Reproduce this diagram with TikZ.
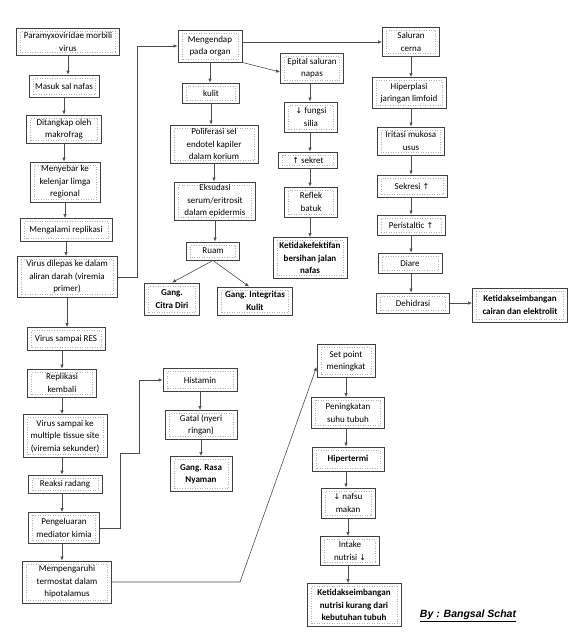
\documentclass[tikz,border=0pt]{standalone}
\usepackage{fontspec}
\setmainfont{Carlito}
\newfontfamily\symfont{DejaVu Sans}
\newfontfamily\signfont{Liberation Sans}
\usetikzlibrary{arrows.meta,calc}
\newcommand{\arrup}{{\symfont\fontsize{8}{12}\selectfont ↑}}
\newcommand{\arrdn}{{\symfont\fontsize{8}{12}\selectfont ↓}}

\begin{document}
\begin{tikzpicture}[
  x=1pt, y=-1pt,
  box/.style={rectangle, draw=black!75, line width=0.9pt, fill=white, align=center,
    font=\fontsize{9}{12.5}\selectfont, inner sep=2.5pt,
    path picture={\draw[black!30, dotted, line width=0.5pt]
      ([shift={(4pt,3pt)}]path picture bounding box.south west) rectangle
      ([shift={(-4pt,-3pt)}]path picture bounding box.north east);}},
  result/.style={box, font=\fontsize{9}{12.5}\selectfont\bfseries},
  arrow/.style={-{Latex[length=4pt,width=3.5pt]}, draw=black!70, line width=0.6pt},
]
\useasboundingbox (0,0) rectangle (574,640);

% === Left column: virus course ===
\node[box, minimum width=103pt, minimum height=27pt] (virus) at (68,42) {Paramyxoviridae morbili\\virus};
\node[box, minimum width=70pt, minimum height=22pt] (masuk) at (64,86) {Masuk sal nafas};
\node[box, minimum width=75pt, minimum height=28pt] (tangkap) at (64,129) {Ditangkap oleh\\makrofrag};
\node[box, minimum width=70pt, minimum height=40pt] (sebar) at (65,182) {Menyebar ke\\kelenjar limga\\regional};
\node[box, minimum width=92pt, minimum height=23pt] (repli) at (66,230) {Mengalami replikasi};
\node[box, minimum width=100pt, minimum height=41pt] (virem) at (67,277) {Virus dilepas ke dalam\\aliran darah (viremia\\primer)};
\node[box, minimum width=78pt, minimum height=23pt] (res) at (66,339) {Virus sampai RES};
\node[box, minimum width=69pt, minimum height=28pt] (replik) at (62,383) {Replikasi\\kembali};
\node[box, minimum width=84pt, minimum height=43pt] (multi) at (65,436) {Virus sampai ke\\multiple tissue site\\(viremia sekunder)};
\node[box, minimum width=74pt, minimum height=18pt] (radang) at (65,484) {Reaksi radang};
\node[box, minimum width=71pt, minimum height=31pt] (mediator) at (64,528) {Pengeluaran\\mediator kimia};
\node[box, minimum width=89pt, minimum height=42pt] (termo) at (67,582) {Mempengaruhi\\termostat dalam\\hipotalamus};

\draw[arrow] (virus.south) -- (virus.south |- masuk.north);
\draw[arrow] (masuk.south) -- (masuk.south |- tangkap.north);
\draw[arrow] (tangkap.south) -- (tangkap.south |- sebar.north);
\draw[arrow] (sebar.south) -- (sebar.south |- repli.north);
\draw[arrow] (repli.south) -- (repli.south |- virem.north);
\draw[arrow] (virem.south) -- (virem.south |- res.north);
\draw[arrow] (res.south -| replik) -- (replik.north);
\draw[arrow] (replik.south) -- (replik.south |- multi.north);
\draw[arrow] (multi.south -| replik) -- (replik |- radang.north);
\draw[arrow] (radang.south -| replik) -- (replik |- mediator.north);
\draw[arrow] (mediator.south -| replik) -- (replik |- termo.north);

% === Histamin branch ===
\node[box, minimum width=74pt, minimum height=23pt] (histamin) at (200,380) {Histamin};
\node[box, minimum width=72pt, minimum height=29pt] (gatal) at (201,425) {Gatal (nyeri\\ringan)};
\node[result, minimum width=62pt, minimum height=35pt] (nyaman) at (201,474) {Gang. Rasa\\Nyaman};
\draw[arrow] (mediator.east) -- ++(20,0) -- ++(0,-75) -- ++(19,0) |- (histamin.west);
\draw[arrow] (histamin.south) -- (histamin.south |- gatal.north);
\draw[arrow] (gatal.south) -- (gatal.south |- nyaman.north);

% === Organ / skin branch ===
\node[box, minimum width=64pt, minimum height=32pt] (endap) at (210,46) {Mengendap\\pada organ};
\node[box, minimum width=57pt, minimum height=20pt] (kulit) at (211,93) {kulit};
\node[box, minimum width=88pt, minimum height=38pt] (poli) at (214,144) {Poliferasi sel\\endotel kapiler\\dalam korium};
\node[box, minimum width=81pt, minimum height=38pt] (eksu) at (215,201) {Eksudasi\\serum/eritrosit\\dalam epidermis};
\node[box, minimum width=53pt, minimum height=18pt] (ruam) at (213,251) {Ruam};
\node[result, minimum width=55pt, minimum height=32pt] (citra) at (172,299) {Gang.\\Citra Diri};
\node[result, minimum width=75pt, minimum height=28pt] (integ) at (255,301) {Gang. Integritas\\Kulit};
\draw[arrow] (virem.east) -- ++(20,0) |- (endap.west);
\draw[arrow] (endap.south) -- (endap.south |- kulit.north);
\draw[arrow] (kulit.south) -- (kulit.south |- poli.north);
\draw[arrow] (poli.south) -- (poli.south |- eksu.north);
\draw[arrow] (eksu.south) -- (eksu.south |- ruam.north);
\draw[arrow] (ruam.south) -- (citra.north);
\draw[arrow] (ruam.south) -- ([xshift=-6pt]integ.north);

% === Respiratory branch ===
\node[box, minimum width=63pt, minimum height=30pt] (epital) at (312,68) {Epital saluran\\napas};
\node[box, minimum width=53pt, minimum height=30pt] (fungsi) at (311,117) {\arrdn{} fungsi\\silia};
\node[box, minimum width=59pt, minimum height=16pt] (sekret) at (308,160) {\arrup{} sekret};
\node[box, minimum width=53pt, minimum height=30pt] (reflek) at (311,202) {Reflek\\batuk};
\node[result, minimum width=74pt, minimum height=41pt] (efek) at (310,258) {Ketidakefektifan\\bersihan jalan\\nafas};
\draw[arrow] (endap.south east) -- ([yshift=-4pt]epital.west);
\draw[arrow] (epital.south -| efek) -- (efek |- fungsi.north);
\draw[arrow] (fungsi.south -| efek) -- (efek |- sekret.north);
\draw[arrow] (sekret.south -| efek) -- (efek |- reflek.north);
\draw[arrow] (reflek.south -| efek) -- (efek.north);

% === Digestive branch ===
\node[box, minimum width=57pt, minimum height=29pt] (cerna) at (411,42) {Saluran\\cerna};
\node[box, minimum width=74pt, minimum height=31pt] (hiper) at (409,93) {Hiperplasi\\jaringan limfoid};
\node[box, minimum width=67pt, minimum height=28pt] (iritasi) at (411,141) {Iritasi mukosa\\usus};
\node[box, minimum width=70pt, minimum height=22pt] (sekresi) at (412,186) {Sekresi \arrup};
\node[box, minimum width=68pt, minimum height=20pt] (peris) at (411,225) {Peristaltic \arrup};
\node[box, minimum width=64pt, minimum height=20pt] (diare) at (410,263) {Diare};
\node[box, minimum width=73pt, minimum height=20pt] (dehid) at (413,303) {Dehidrasi};
\node[result, minimum width=95pt, minimum height=34pt] (cairan) at (520,305) {Ketidakseimbangan\\cairan dan elektrolit};
\draw[arrow] (endap.east |- cerna.west) -- (cerna.west);
\draw[arrow] (cerna.south) -- (cerna.south |- hiper.north);
\draw[arrow] (hiper.south -| cerna) -- (cerna |- iritasi.north);
\draw[arrow] (iritasi.south -| cerna) -- (cerna |- sekresi.north);
\draw[arrow] (sekresi.south -| cerna) -- (cerna |- peris.north);
\draw[arrow] (peris.south -| cerna) -- (cerna |- diare.north);
\draw[arrow] (diare.south -| cerna) -- (cerna |- dehid.north);
\draw[arrow] (dehid.east) -- (dehid.east -| cairan.west);

% === Fever branch ===
\node[box, minimum width=58pt, minimum height=33pt] (setpoint) at (346,361) {Set point\\meningkat};
\node[box, minimum width=73pt, minimum height=31pt] (suhu) at (348,413) {Peningkatan\\suhu tubuh};
\node[result, minimum width=72pt, minimum height=24pt] (hipertermi) at (348,459) {Hipertermi};
\node[box, minimum width=54pt, minimum height=30pt] (nafsu) at (348,503) {\arrdn{} nafsu\\makan};
\node[box, minimum width=59pt, minimum height=29pt] (intake) at (350,551) {Intake\\nutrisi \arrdn};
\node[result, minimum width=94pt, minimum height=43pt] (nutrisi) at (354,605) {Ketidakseimbangan\\nutrisi kurang dari\\kebutuhan tubuh};
\draw[arrow] (termo.east) -- ++(128,0) -- ([yshift=-6pt]setpoint.west);
\draw[arrow] (setpoint.south) -- (setpoint.south |- suhu.north);
\draw[arrow] (suhu.south -| setpoint) -- (setpoint |- hipertermi.north);
\draw[arrow] (hipertermi.south -| setpoint) -- (setpoint |- nafsu.north);
\draw[arrow] (nafsu.south) -- (nafsu.south |- intake.north);
\draw[arrow] (intake.south -| nafsu) -- (nafsu |- nutrisi.north);

\node[font=\signfont\fontsize{10.5}{12}\selectfont\bfseries\itshape] (sign) at (468,616) {\underline{By : Bangsal Schat}};

\end{tikzpicture}
\end{document}
